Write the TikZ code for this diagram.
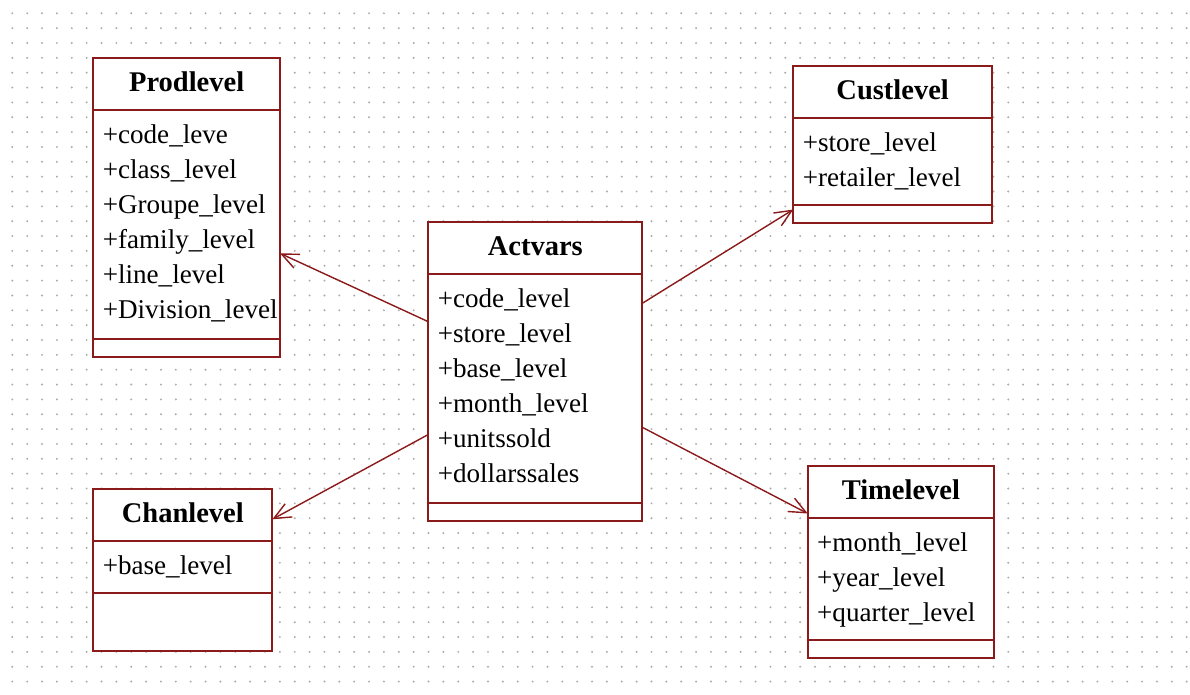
\documentclass[tikz,border=0pt]{standalone}
\usepackage{fontspec}
\setmainfont{Liberation Serif}
\usetikzlibrary{arrows.meta,calc}
\definecolor{umlred}{RGB}{139,26,26}
\definecolor{griddot}{RGB}{172,172,172}

% UML class: name, position, width, height, offset of lower separator, title, attributes
\newcommand\umlclass[7]{%
  \node[classbox, minimum width=#3pt, minimum height=#4pt] (#1) at #2 {};
  \draw[sepline] ($(#1.north west)+(0,52)$) -- ($(#1.north east)+(0,52)$);
  \draw[sepline] ($(#1.north west)+(0,#5)$) -- ($(#1.north east)+(0,#5)$);
  \node[classtitle] (#1-title) at ($(#1.north)+(0,33.5)$) {#6};
  \foreach \a [count=\k] in {#7}
    \node[attr] (#1-attr\k) at ($(#1.north west)+(9.3,{85.3+35*(\k-1)})$) {\a};
}

\begin{document}
\begin{tikzpicture}[x=1pt,y=-1pt,
  classbox/.style={draw=umlred, line width=1.8pt, fill=white, anchor=north west,
                   inner sep=0pt, outer sep=0pt},
  sepline/.style={draw=umlred, line width=1.8pt},
  classtitle/.style={font=\fontsize{28.5}{34}\selectfont\bfseries, anchor=base, inner sep=0pt},
  attr/.style={font=\fontsize{27.1}{33}\selectfont, anchor=base west, inner sep=0pt},
  assoc/.style={draw=umlred, line width=1.4pt, -{Straight Barb[length=17pt,width=15pt]}}
]
\useasboundingbox (0,0) rectangle (1190,694);
\fill[white] (0,0) rectangle (1190,694);

% dotted drawing grid
\foreach \i in {0,...,79}
  \foreach \j in {0,...,45}
    \fill[griddot] ({12.3+14.865*\i},{13.3+14.85*\j}) circle (1.1pt);

% classes
\umlclass{prod}{(93.3,58.3)}{186.7}{298.4}{280.7}{Prodlevel}%
  {+code\_leve,+class\_level,+Groupe\_level,+family\_level,+line\_level,+Division\_level}
\umlclass{act}{(428.3,221.7)}{214}{299}{281}{Actvars}%
  {+code\_level,+store\_level,+base\_level,+month\_level,+unitssold,+dollarssales}
\umlclass{cust}{(793.3,65.7)}{198.7}{157}{139.3}{Custlevel}%
  {+store\_level,+retailer\_level}
\umlclass{time}{(807.7,465.7)}{186.3}{192}{174.3}{Timelevel}%
  {+month\_level,+year\_level,+quarter\_level}
\umlclass{chan}{(93.3,489.3)}{179}{161.7}{104}{Chanlevel}%
  {+base\_level}

% attachment points of the associations
\coordinate (act-p) at ($(act.north west)+(0,100)$);
\coordinate (act-c) at ($(act.north west)+(0,212.8)$);
\coordinate (act-u) at ($(act.north east)+(0,81.6)$);
\coordinate (act-t) at ($(act.north east)+(0,205.6)$);
\coordinate (prod-in) at ($(prod.north east)+(0,195)$);
\coordinate (chan-in) at ($(chan.north east)+(0,30)$);
\coordinate (cust-in) at ($(cust.north west)+(0,143.8)$);
\coordinate (time-in) at ($(time.north west)+(0,47.8)$);

% associations
\draw[assoc] (act-p) -- (prod-in);
\draw[assoc] (act-c) -- (chan-in);
\draw[assoc] (act-u) -- (cust-in);
\draw[assoc] (act-t) -- (time-in);
\end{tikzpicture}
\end{document}
